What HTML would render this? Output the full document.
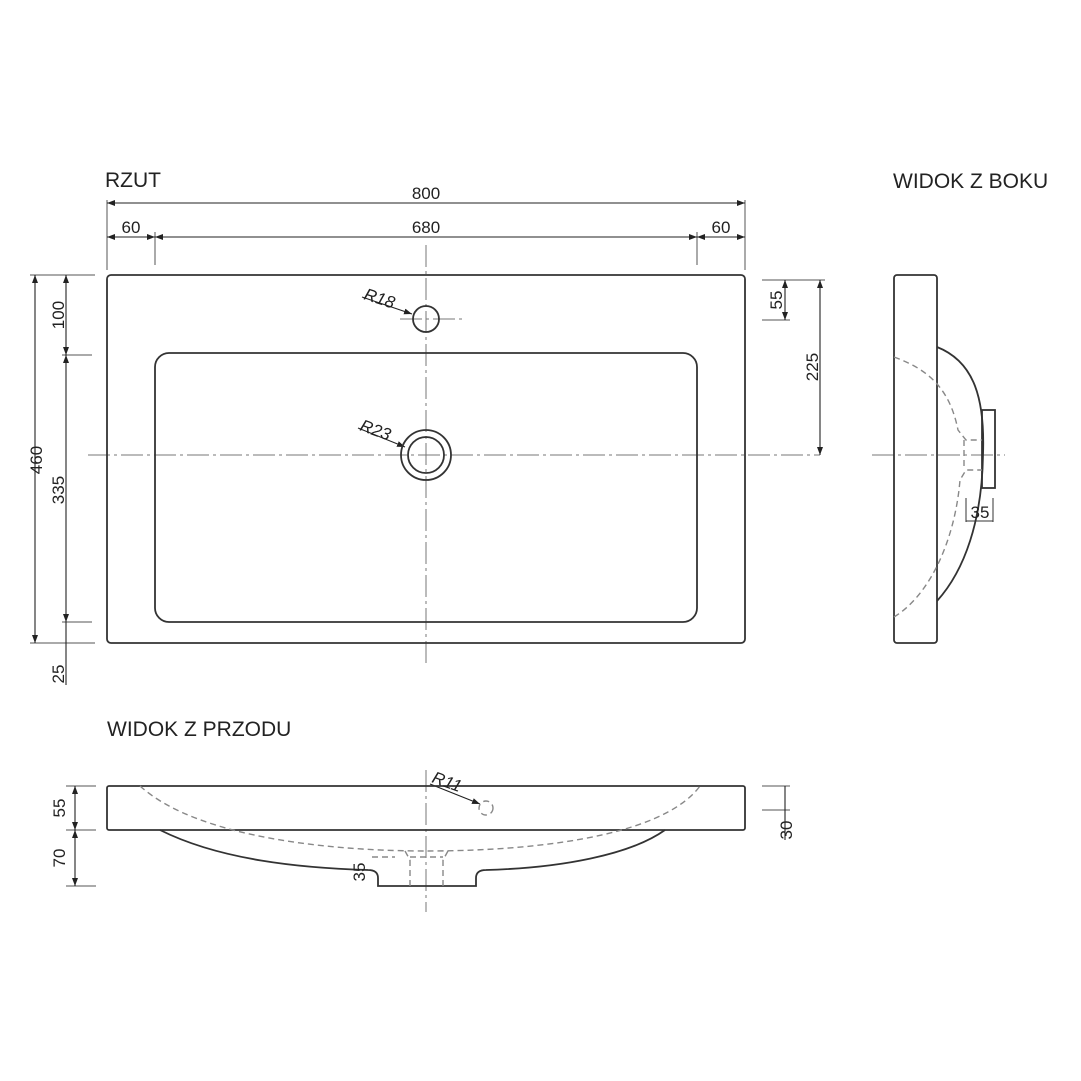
<!DOCTYPE html>
<html><head><meta charset="utf-8"><style>
body{margin:0;background:#fff}
svg{display:block}
text{font-family:"Liberation Sans",Arial,sans-serif;fill:#222}
</style></head><body>
<svg width="1081" height="1081" viewBox="0 0 1081 1081" xmlns="http://www.w3.org/2000/svg">
<defs>
<marker id="a" markerWidth="8" markerHeight="6" refX="8" refY="3" orient="auto-start-reverse" markerUnits="userSpaceOnUse"><path d="M0,0 L8,3 L0,6z" fill="#222"/></marker>
</defs>
<g stroke="#555" stroke-width="1" fill="none">
<g stroke="#777" stroke-dasharray="22,4,3,4">
<line x1="426" y1="245" x2="426" y2="665"/>
<line x1="88" y1="455" x2="820" y2="455"/>
<line x1="872" y1="455" x2="1005" y2="455"/>
<line x1="400" y1="319" x2="462" y2="319"/>
<line x1="426" y1="770" x2="426" y2="912"/>
</g>
<line x1="107" y1="200" x2="107" y2="270"/>
<line x1="745" y1="200" x2="745" y2="270"/>
<line x1="155" y1="232" x2="155" y2="265"/>
<line x1="697" y1="232" x2="697" y2="265"/>
<line x1="30" y1="275" x2="95" y2="275"/>
<line x1="30" y1="643" x2="95" y2="643"/>
<line x1="62" y1="355" x2="92" y2="355"/>
<line x1="62" y1="622" x2="92" y2="622"/>
<line x1="762" y1="280" x2="825" y2="280"/>
<line x1="762" y1="320" x2="790" y2="320"/>
<line x1="66" y1="786" x2="96" y2="786"/>
<line x1="66" y1="830" x2="96" y2="830"/>
<line x1="66" y1="886" x2="96" y2="886"/>
<line x1="762" y1="786" x2="790" y2="786"/>
<line x1="762" y1="810" x2="790" y2="810"/>
</g>
<g stroke="#222" stroke-width="1.1" fill="none">
<line x1="107" y1="203" x2="745" y2="203" marker-start="url(#a)" marker-end="url(#a)"/>
<line x1="107" y1="237" x2="155" y2="237" marker-start="url(#a)" marker-end="url(#a)"/>
<line x1="155" y1="237" x2="697" y2="237" marker-start="url(#a)" marker-end="url(#a)"/>
<line x1="697" y1="237" x2="745" y2="237" marker-start="url(#a)" marker-end="url(#a)"/>
<line x1="35" y1="275" x2="35" y2="643" marker-start="url(#a)" marker-end="url(#a)"/>
<line x1="66" y1="275" x2="66" y2="355" marker-start="url(#a)" marker-end="url(#a)"/>
<line x1="66" y1="355" x2="66" y2="622" marker-start="url(#a)" marker-end="url(#a)"/>
<line x1="66" y1="622" x2="66" y2="685"/>
<line x1="785" y1="280" x2="785" y2="320" marker-start="url(#a)" marker-end="url(#a)"/>
<line x1="820" y1="280" x2="820" y2="455" marker-start="url(#a)" marker-end="url(#a)"/>
<line x1="75" y1="786" x2="75" y2="830" marker-start="url(#a)" marker-end="url(#a)"/>
<line x1="75" y1="830" x2="75" y2="886" marker-start="url(#a)" marker-end="url(#a)"/>
<line x1="785" y1="786" x2="785" y2="840"/>
<line x1="362" y1="297" x2="412" y2="314" marker-end="url(#a)"/>
<line x1="358" y1="428" x2="405" y2="447" marker-end="url(#a)"/>
<line x1="430" y1="784" x2="480" y2="804" marker-end="url(#a)"/>
</g>
<g stroke="#333" stroke-width="1.8" fill="none">
<rect x="107" y="275" width="638" height="368" rx="4"/>
<rect x="155" y="353" width="542" height="269" rx="14"/>
<circle cx="426" cy="319" r="13"/>
<circle cx="426" cy="455" r="25"/>
<circle cx="426" cy="455" r="18"/>
<rect x="894" y="275" width="43" height="368" rx="3"/>
<path d="M937,347 C975,362 985,400 983,455 C982,520 965,570 937,601"/>
<rect x="982" y="410" width="13" height="78"/>
<rect x="107" y="786" width="638" height="44" rx="2"/>
<path d="M160,830 C220,860 300,868 368,870 Q378,870 378,878 L378,886 L476,886 L476,878 Q476,870 486,870 C560,868 630,855 665,830"/>
</g>
<g stroke="#888" stroke-width="1.4" fill="none" stroke-dasharray="6,4">
<path d="M894,357 C930,370 950,390 958,430 L966,440 L982,440"/>
<path d="M894,617 C930,595 955,540 960,480 L966,470 L982,470"/>
<line x1="964" y1="440" x2="964" y2="470"/>
<path d="M140,786 C200,840 340,851 426,851 C520,851 660,840 700,786"/>
<circle cx="486" cy="808" r="7"/>
<line x1="405" y1="851" x2="410" y2="860"/><line x1="448" y1="851" x2="443" y2="860"/>
<line x1="410" y1="860" x2="410" y2="886"/><line x1="443" y1="860" x2="443" y2="886"/>
<line x1="410" y1="857" x2="443" y2="857"/>
<line x1="372" y1="857" x2="395" y2="857"/>
</g>
<g stroke="#333" stroke-width="1" fill="none">
<line x1="966" y1="498" x2="966" y2="522"/><line x1="993" y1="498" x2="993" y2="522"/>
<line x1="966" y1="521" x2="993" y2="521"/>
</g>
<g font-size="17">
<text x="105" y="187" font-size="21">RZUT</text>
<text x="893" y="188" font-size="21">WIDOK Z BOKU</text>
<text x="107" y="736" font-size="21">WIDOK Z PRZODU</text>
<text x="426" y="199" text-anchor="middle">800</text>
<text x="131" y="233" text-anchor="middle">60</text>
<text x="426" y="233" text-anchor="middle">680</text>
<text x="721" y="233" text-anchor="middle">60</text>
<text transform="translate(42,460) rotate(-90)" text-anchor="middle">460</text>
<text transform="translate(64,315) rotate(-90)" text-anchor="middle">100</text>
<text transform="translate(64,490) rotate(-90)" text-anchor="middle">335</text>
<text transform="translate(64,674) rotate(-90)" text-anchor="middle">25</text>
<text transform="translate(782,300) rotate(-90)" text-anchor="middle">55</text>
<text transform="translate(818,367) rotate(-90)" text-anchor="middle">225</text>
<text transform="translate(65,808) rotate(-90)" text-anchor="middle">55</text>
<text transform="translate(65,858) rotate(-90)" text-anchor="middle">70</text>
<text transform="translate(792,830) rotate(-90)" text-anchor="middle">30</text>
<text transform="translate(365,872) rotate(-90)" text-anchor="middle">35</text>
<text x="980" y="518" text-anchor="middle">35</text>
<text transform="translate(363,299) rotate(18)" font-style="italic">R18</text>
<text transform="translate(359,430) rotate(20)" font-style="italic">R23</text>
<text transform="translate(431,782) rotate(20)" font-style="italic">R11</text>
</g>
</svg>
</body></html>
